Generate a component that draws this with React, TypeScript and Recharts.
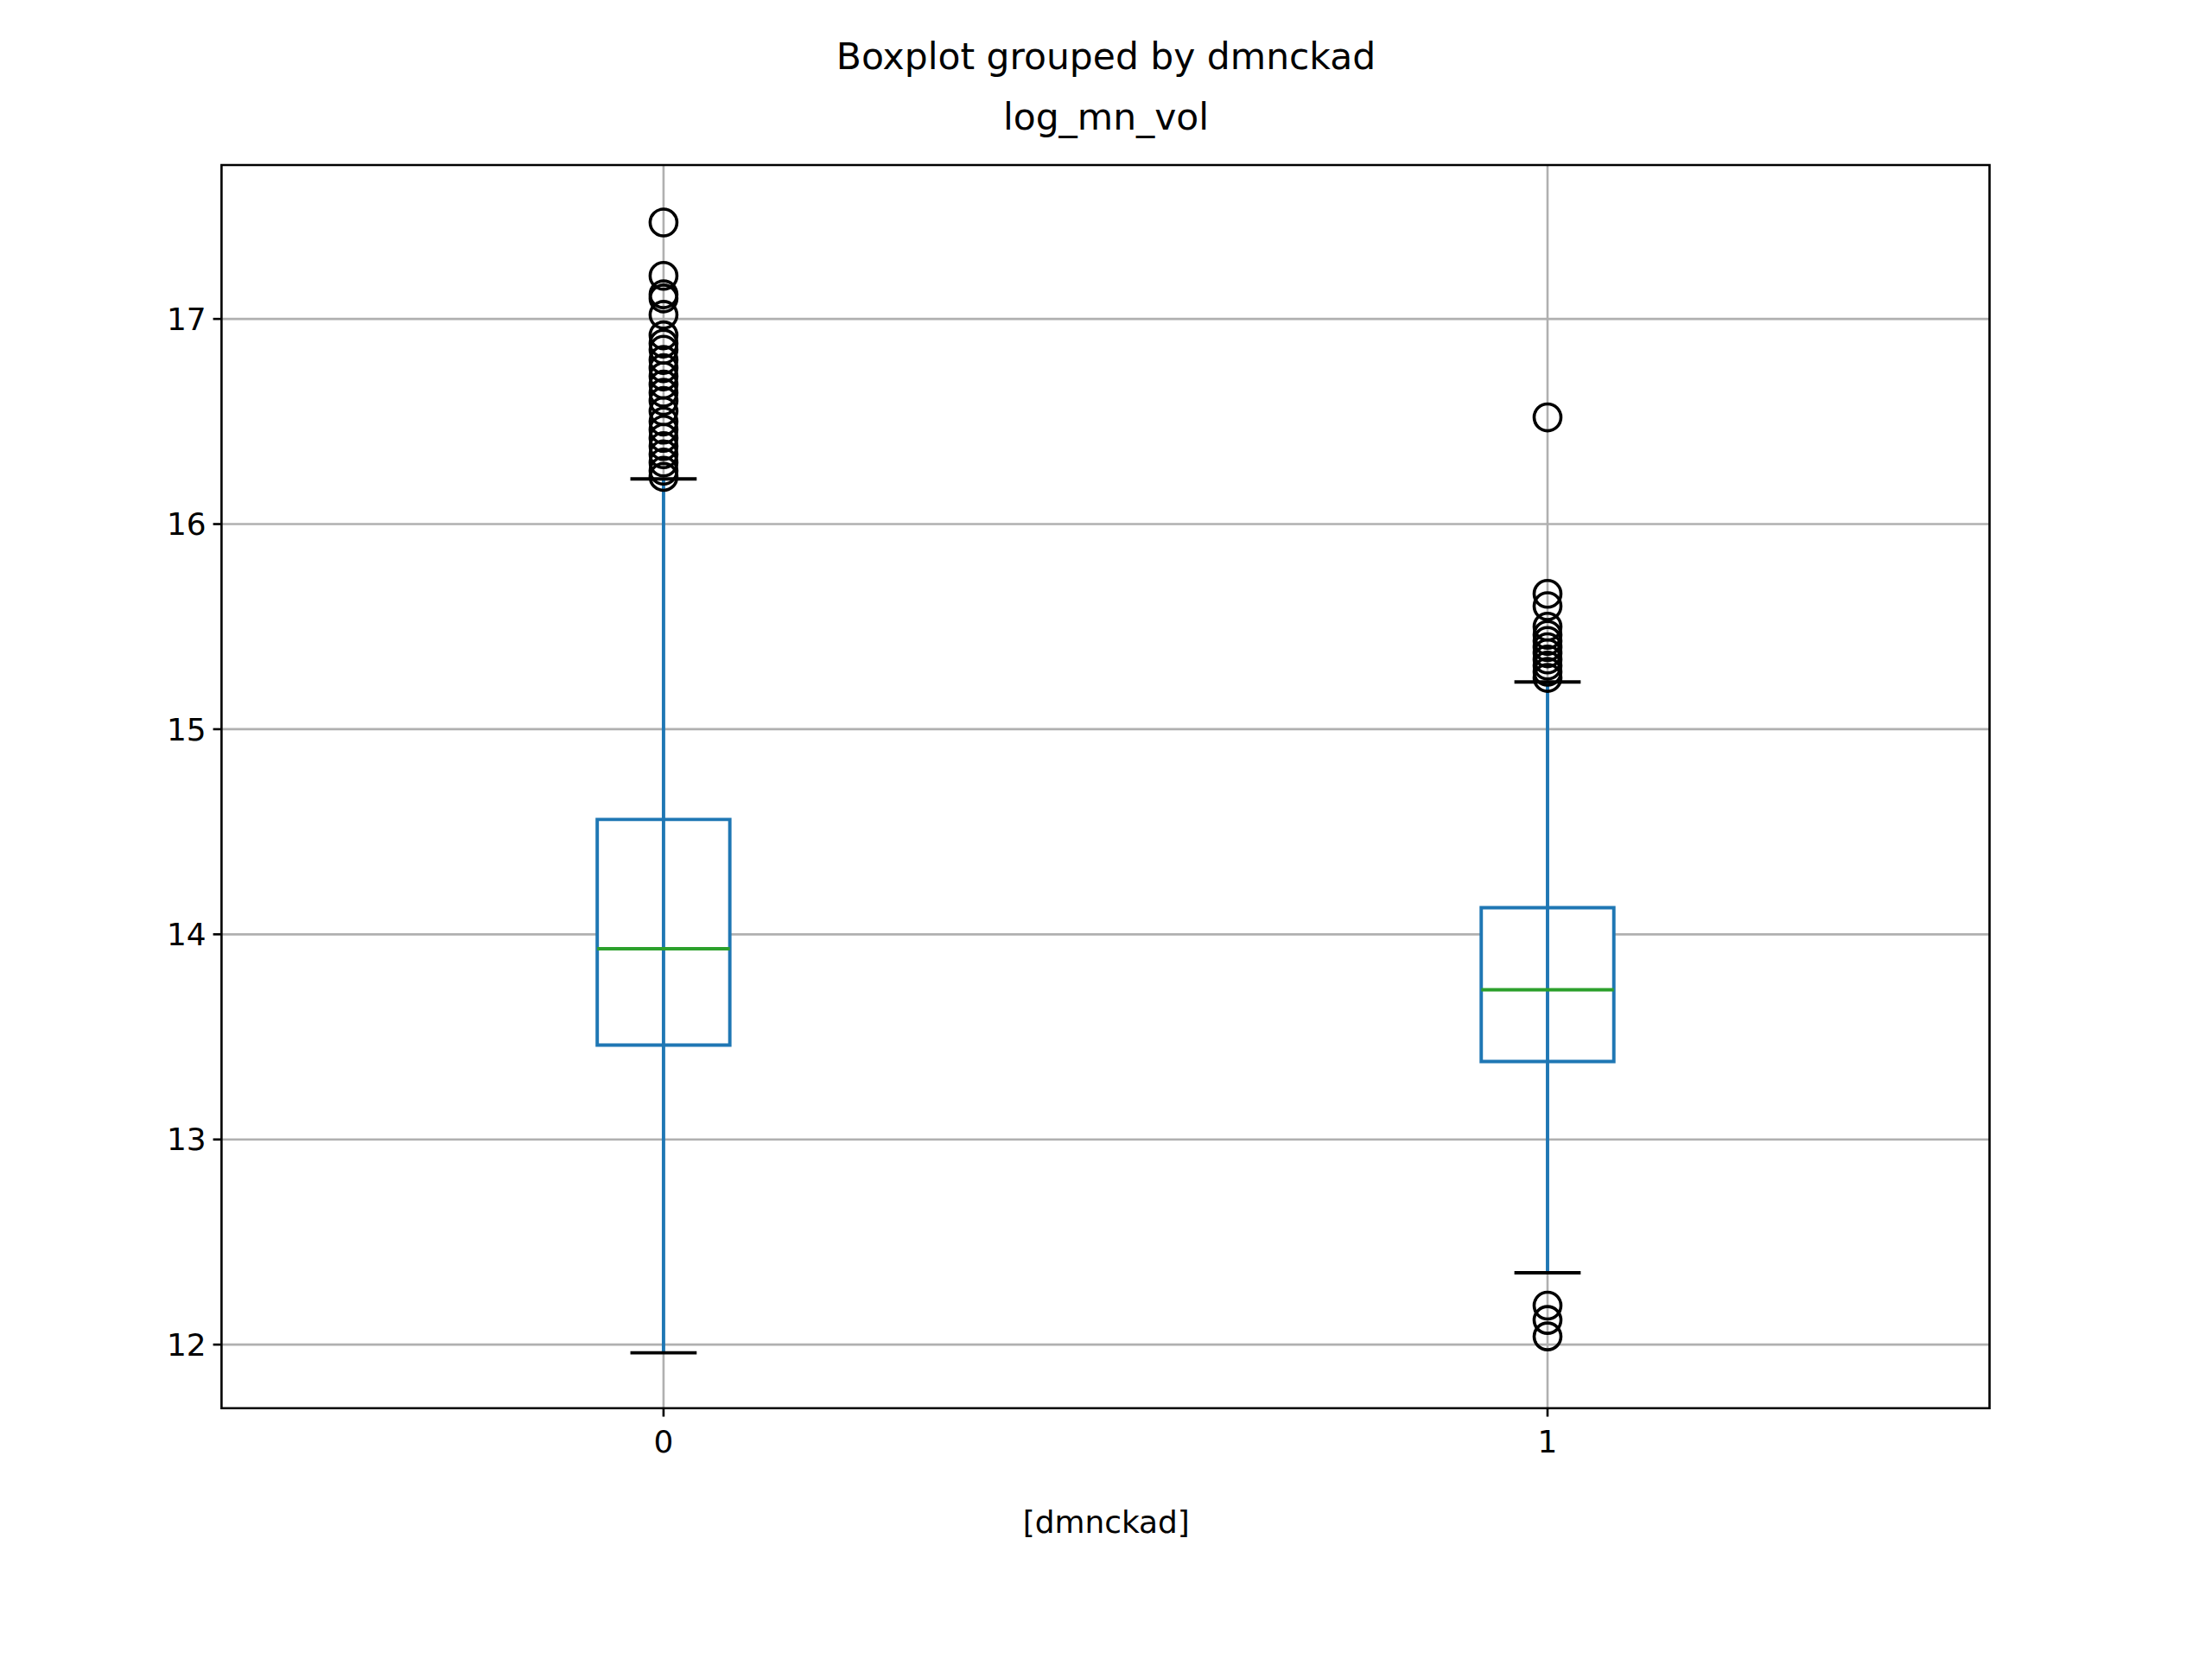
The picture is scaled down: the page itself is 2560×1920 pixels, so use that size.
import { ComposedChart, XAxis, YAxis, CartesianGrid, Scatter, ReferenceArea, ReferenceLine } from "recharts";

const groups = [0, 1];
const q1 = [13.46, 13.38];
const median = [13.93, 13.73];
const q3 = [14.56, 14.13];
const whiskerLow = [11.96, 12.35];
const whiskerHigh = [16.22, 15.23];
const outliers0 = [16.23, 16.26, 16.3, 16.34, 16.38, 16.42, 16.46, 16.5, 16.55, 16.6, 16.64, 16.68, 16.72, 16.76, 16.8, 16.85, 16.88, 16.92, 17.02, 17.1, 17.12, 17.21, 17.47];
const outliers1 = [12.04, 12.12, 12.19, 15.25, 15.28, 15.31, 15.34, 15.37, 15.4, 15.43, 15.46, 15.5, 15.6, 15.66, 16.52];
const yTicks = [12, 13, 14, 15, 16, 17];

const BLUE = "#1f77b4";
const S = 1.633;
const font = "DejaVu Sans, sans-serif";

const outlierPoints = [
  ...outliers0.map((y) => ({ x: groups[0], y })),
  ...outliers1.map((y) => ({ x: groups[1], y })),
];

const Circle = (p: any) => (
  <circle cx={p.cx} cy={p.cy} r={9.5 * S} fill="none" stroke="#000" strokeWidth={2.2 * S} />
);

export default function App() {
  const boxHalf = 0.075;
  const capHalf = 0.0375;
  const tick = { fontSize: 22 * S, fill: "#000", fontFamily: font };
  const xAxisH = 60;
  return (
    <div style={{ position: "absolute", left: 0, top: 0, width: 2560, height: 1920, background: "#fff" }}>
      <div style={{ position: "absolute", top: 19 * S, width: "100%", textAlign: "center", fontFamily: font, fontSize: 26 * S, lineHeight: `${43 * S}px` }}>
        Boxplot grouped by dmnckad<br />log_mn_vol
      </div>
      <div style={{ position: "absolute", top: 1066 * S, left: 0, width: 1568 * S, textAlign: "center", fontFamily: font, fontSize: 22 * S }}>
        [dmnckad]
      </div>
      <ComposedChart width={2560} height={1920} margin={{ top: 117 * S, right: 2560 - 1410 * S, bottom: 1920 - 998 * S - xAxisH, left: 157 * S - 120 }}>
        <CartesianGrid stroke="#b0b0b0" strokeWidth={1.6 * S} horizontalValues={yTicks} verticalValues={groups} />
        <XAxis type="number" dataKey="x" domain={[-0.5, 1.5]} ticks={groups} allowDataOverflow
          tick={{ ...tick, dy: 14 }} tickLine={{ stroke: "#000", strokeWidth: 1.6 * S }} tickSize={6 * S}
          axisLine={false} height={xAxisH} />
        <YAxis type="number" dataKey="y" domain={[11.69, 17.75]} ticks={yTicks} allowDataOverflow width={120}
          tick={{ ...tick, dx: -6 }} tickLine={{ stroke: "#000", strokeWidth: 1.6 * S }} tickSize={6 * S}
          axisLine={false} />
        {groups.map((g, i) => (
          <ReferenceLine key={`w${i}`} segment={[{ x: g, y: whiskerLow[i] }, { x: g, y: whiskerHigh[i] }]} stroke={BLUE} strokeWidth={2.4 * S} />
        ))}
        {groups.map((g, i) => (
          <ReferenceArea key={`b${i}`} x1={g - boxHalf} x2={g + boxHalf} y1={q1[i]} y2={q3[i]} fill="#fff" fillOpacity={1} stroke={BLUE} strokeWidth={2.4 * S} />
        ))}
        {groups.map((g, i) => (
          <ReferenceLine key={`m${i}`} segment={[{ x: g - boxHalf, y: median[i] }, { x: g + boxHalf, y: median[i] }]} stroke="#2ca02c" strokeWidth={2.4 * S} />
        ))}
        {groups.flatMap((g, i) => [whiskerLow[i], whiskerHigh[i]].map((v, j) => (
          <ReferenceLine key={`c${i}${j}`} segment={[{ x: g - capHalf, y: v }, { x: g + capHalf, y: v }]} stroke="#000" strokeWidth={2.4 * S} />
        )))}
        <Scatter data={outlierPoints} shape={Circle} isAnimationActive={false} />
        <ReferenceArea x1={-0.5} x2={1.5} y1={11.69} y2={17.75} fill="none" stroke="#000" strokeWidth={1.6 * S} ifOverflow="visible" />
      </ComposedChart>
    </div>
  );
}
